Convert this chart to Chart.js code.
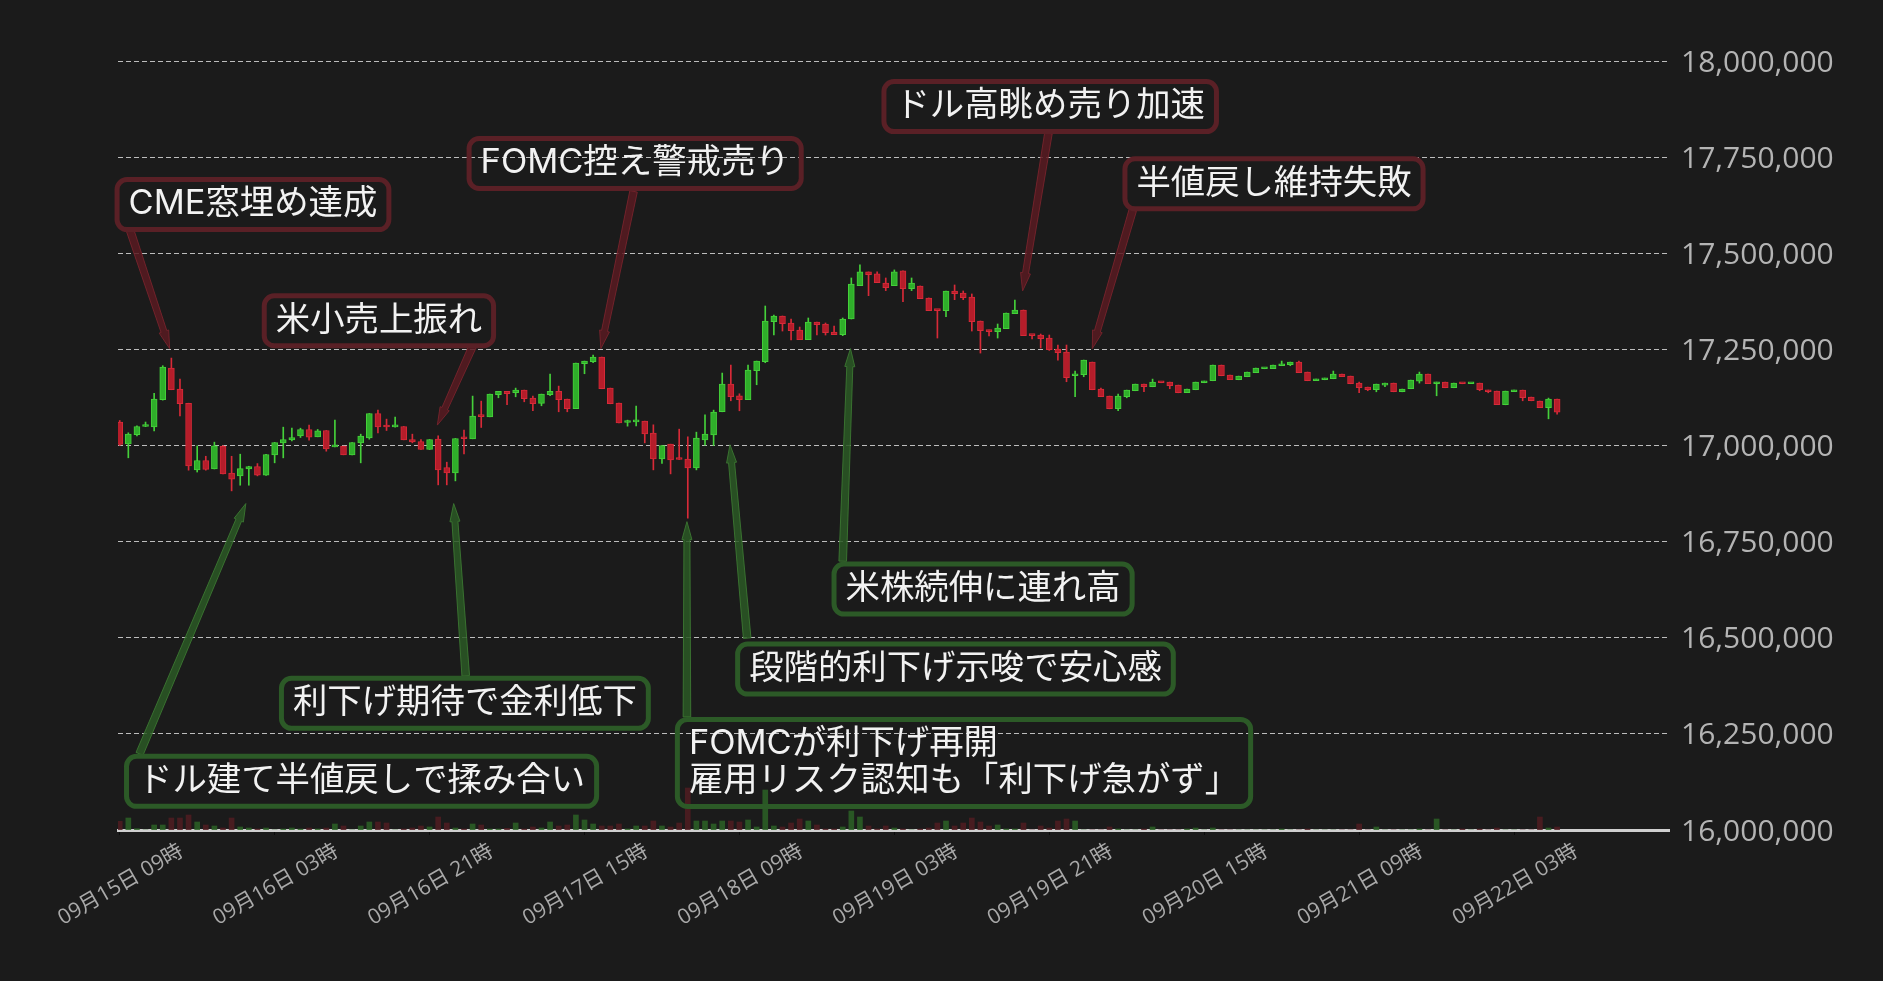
<!DOCTYPE html>
<html>
<head>
<meta charset="utf-8">
<script src="https://cdn.jsdelivr.net/npm/chart.js@4.4.1/dist/chart.umd.min.js"></script>
<style>
  html, body { margin: 0; padding: 0; background: #1b1b1b; }
  #wrap { width: 1883px; height: 981px; }
</style>
</head>
<body>
<div id="wrap"><canvas id="chart"></canvas></div>
<script>
// hourly candles from 09月15日 09時 (index = hours since start)
var opens = [
  17061000, 17004000, 17028000, 17049500, 17048600, 17118900, 17201400, 17146700, 17110000, 16936600,
  16961000, 16939000, 16998000, 16928000, 16921000, 16939000, 16945300, 16922700, 16975700, 17006900,
  17014700, 17025200, 17041700, 17022600, 17039000, 16996500, 16998300, 16975700, 17006900, 17020000,
  17083300, 17049500, 17048600, 17049500, 17015600, 17010400, 16989600, 17016500, 16942700, 16928800,
  17019000, 17017400, 17076400, 17074600, 17131900, 17140600, 17137100, 17144100, 17123300, 17109400,
  17131900, 17140600, 17120700, 17095500, 17212700, 17217900, 17230000, 17149300, 17110200, 17059900,
  17061600, 17063400, 17032100, 16965300, 17003500, 16965300, 16964400, 16941800, 17014800, 17027800,
  17087700, 17159700, 17129300, 17118900, 17194400, 17217900, 17322000, 17336800, 17318600, 17300300,
  17275200, 17321200, 17316000, 17295100, 17288200, 17329000, 17415800, 17451400, 17446200, 17422700,
  17415800, 17454000, 17408000, 17414900, 17383700, 17352400, 17350700, 17401900, 17396700, 17386300,
  17323800, 17300300, 17296000, 17303800, 17342900, 17352400, 17287300, 17287300, 17279500, 17250900,
  17243000, 17181400, 17184000, 17217000, 17146700, 17128500, 17095500, 17126700, 17142400, 17159700,
  17152800, 17164900, 17164900, 17157100, 17137100, 17145000, 17163200, 17168400, 17209200, 17183100,
  17171000, 17178800, 17189200, 17199600, 17199600, 17207500, 17210100, 17217000, 17191000, 17168400,
  17171000, 17173600, 17185800, 17180500, 17162300, 17151900, 17145000, 17157100, 17162300, 17139700,
  17147600, 17167500, 17185800, 17160600, 17164900, 17150200, 17162300, 17160600, 17162300, 17144100,
  17141500, 17105900, 17139700, 17144100, 17125900, 17115400, 17098100, 17120700
];
var highs = [
  17065000, 17033000, 17051000, 17061000, 17135400, 17207500, 17227400, 17172700, 17110000, 16999000,
  16972000, 17008700, 17000000, 16972000, 16977400, 16946000, 16953000, 16977000, 17008000, 17047700,
  17045100, 17045000, 17053000, 17041700, 17039000, 17066000, 16998300, 17007800, 17029500, 17083300,
  17092000, 17068600, 17073800, 17049500, 17029500, 17015600, 17015600, 17025200, 16956600, 17018200,
  17039900, 17128500, 17115400, 17133700, 17140600, 17140600, 17149300, 17144100, 17128500, 17133700,
  17185800, 17154500, 17120700, 17214400, 17219600, 17235200, 17230000, 17149300, 17110200, 17066000,
  17102400, 17063400, 17053800, 17000000, 17003500, 17042500, 17022600, 17034700, 17079900, 17092000,
  17188400, 17209200, 17134500, 17209200, 17219600, 17362800, 17339400, 17336800, 17329000, 17308100,
  17331600, 17321200, 17318600, 17310700, 17331600, 17435700, 17469600, 17451400, 17451400, 17435700,
  17456600, 17454000, 17435700, 17414900, 17383700, 17352400, 17401900, 17417500, 17401900, 17394100,
  17323800, 17300300, 17316000, 17344600, 17378400, 17352400, 17287300, 17289900, 17287300, 17261300,
  17261300, 17193600, 17222200, 17217000, 17149300, 17128500, 17133700, 17144100, 17159700, 17159700,
  17172700, 17164900, 17164900, 17157100, 17146700, 17164900, 17167500, 17209200, 17209200, 17183100,
  17180500, 17191000, 17201400, 17201400, 17209200, 17219600, 17217000, 17219600, 17191000, 17172700,
  17175300, 17193600, 17185800, 17180500, 17164900, 17151900, 17159700, 17162300, 17162300, 17146700,
  17170100, 17191000, 17185800, 17164900, 17164900, 17162300, 17162300, 17162300, 17162300, 17144100,
  17141500, 17141500, 17144100, 17144100, 17125900, 17115400, 17123300, 17120700
];
var lows = [
  17000000, 16968000, 17025000, 17049000, 17038000, 17118000, 17145000, 17077000, 16935800, 16931000,
  16935800, 16939000, 16926000, 16882000, 16896700, 16896700, 16921000, 16922000, 16954900, 16967900,
  17012100, 17020800, 17013900, 17022600, 16985200, 16996500, 16975700, 16975700, 16954900, 17016500,
  17033000, 17039000, 17047700, 17014700, 17007000, 16989600, 16989600, 16897600, 16897600, 16908000,
  16978300, 17017400, 17046900, 17074600, 17124100, 17105900, 17126700, 17113700, 17090300, 17103300,
  17129300, 17087700, 17087700, 17095500, 17186600, 17215300, 17147600, 17108500, 17059000, 17050300,
  17051200, 17006900, 16936600, 16953100, 16926200, 16963500, 16811000, 16936600, 17000900, 17000000,
  17087700, 17116300, 17090300, 17118900, 17158000, 17215300, 17287300, 17297700, 17274300, 17275200,
  17275200, 17287300, 17287300, 17288200, 17285600, 17329000, 17415800, 17389700, 17423600, 17402800,
  17415800, 17374100, 17402800, 17381900, 17350700, 17279500, 17335000, 17379300, 17379300, 17297700,
  17240400, 17284700, 17279500, 17303800, 17342900, 17285600, 17276900, 17253500, 17247400, 17222200,
  17165800, 17126700, 17178800, 17145000, 17126700, 17095500, 17090300, 17124100, 17142400, 17139700,
  17152800, 17163200, 17147600, 17137100, 17137100, 17145000, 17163200, 17168400, 17181400, 17171000,
  17171000, 17178800, 17189200, 17199600, 17199600, 17207500, 17207500, 17189200, 17168400, 17168400,
  17171000, 17173600, 17178800, 17160600, 17137100, 17142400, 17139700, 17152800, 17139700, 17139700,
  17147600, 17162300, 17160600, 17129300, 17150200, 17150200, 17160600, 17160600, 17142400, 17137100,
  17105900, 17105900, 17139700, 17116300, 17116300, 17098100, 17069400, 17081600
];
var closes = [
  17003000, 17030000, 17049500, 17051000, 17120700, 17204000, 17145000, 17108500, 16947000, 16961000,
  16938000, 16999000, 16926000, 16912300, 16940000, 16945300, 16922700, 16976500, 17007800, 17015600,
  17020800, 17041700, 17021700, 17038200, 16991300, 17000000, 16975700, 17007800, 17024300, 17083300,
  17048600, 17048000, 17049500, 17014700, 17009500, 16989600, 17015600, 16936600, 16928800, 17018200,
  17017500, 17076400, 17075000, 17133700, 17140600, 17134500, 17144100, 17121500, 17108500, 17133700,
  17140600, 17118900, 17095500, 17214400, 17219600, 17230000, 17147600, 17108500, 17059000, 17063400,
  17063400, 17030400, 16965300, 17000000, 16962700, 16963500, 16941800, 17019100, 17029500, 17086800,
  17159700, 17126700, 17118900, 17196200, 17219600, 17323800, 17336800, 17316800, 17298600, 17275200,
  17321200, 17314200, 17293400, 17288200, 17329000, 17420100, 17451400, 17444400, 17423600, 17410600,
  17451400, 17408000, 17422700, 17381900, 17350700, 17350700, 17401900, 17394900, 17384500, 17322000,
  17298600, 17296000, 17305500, 17344600, 17352400, 17285600, 17285600, 17277800, 17249100, 17241300,
  17176200, 17185800, 17222200, 17145000, 17126700, 17095500, 17128500, 17144100, 17159700, 17152800,
  17164900, 17163200, 17155400, 17137100, 17146700, 17164900, 17167500, 17209200, 17181400, 17171000,
  17180500, 17191000, 17201400, 17201400, 17209200, 17211800, 17217000, 17189200, 17168400, 17172700,
  17175300, 17185800, 17178800, 17160600, 17150200, 17145000, 17159700, 17162300, 17139700, 17146700,
  17170100, 17185800, 17160600, 17164900, 17150200, 17162300, 17160600, 17162300, 17145000, 17139700,
  17105900, 17141500, 17144100, 17124100, 17116300, 17098100, 17120700, 17086800
];
var volumes = [
  87, 120, 13, 0, 50, 50, 120, 120, 150, 80,
  50, 40, 20, 120, 30, 20, 10, 20, 0, 10,
  20, 10, 20, 10, 20, 60, 40, 0, 40, 80,
  80, 70, 0, 10, 20, 40, 30, 130, 70, 20,
  10, 60, 50, 10, 10, 17, 70, 10, 30, 20,
  80, 40, 50, 150, 100, 60, 40, 40, 60, 10,
  40, 40, 90, 40, 30, 70, 420, 90, 90, 60,
  90, 90, 80, 100, 30, 400, 40, 30, 70, 110,
  90, 50, 10, 10, 30, 190, 130, 40, 10, 40,
  20, 10, 0, 10, 20, 70, 90, 40, 70, 120,
  80, 40, 50, 10, 10, 70, 0, 40, 20, 90,
  110, 90, 0, 0, 0, 30, 10, 0, 0, 10,
  30, 0, 0, 0, 10, 20, 0, 20, 0, 0,
  0, 0, 0, 0, 0, 10, 0, 0, 10, 0,
  0, 0, 0, 0, 60, 0, 30, 0, 0, 0,
  0, 10, 0, 110, 0, 0, 10, 0, 10, 0,
  20, 0, 0, 0, 0, 130, 20, 30
];
var tickHours = [0, 18, 36, 54, 72, 90, 108, 126, 144, 162];
var tickLabels = ['09月15日 09時', '09月16日 03時', '09月16日 21時', '09月17日 15時', '09月18日 09時',
  '09月19日 03時', '09月19日 21時', '09月20日 15時', '09月21日 09時', '09月22日 03時'];

// annotations: box = top-left corner, base = arrow start, tip = arrow end (hour, price)
var notes = [
  { tone: 'down', text: ['CME窓埋め達成'], box: [-0.6, 17698000], base: [1.2, 17560000], tip: [5.8, 17252000] },
  { tone: 'down', text: ['米小売上振れ'], box: [16.5, 17396000], base: [41.0, 17258000], tip: [36.9, 17053000] },
  { tone: 'down', text: ['FOMC控え警戒売り'], box: [40.3, 17805000], base: [59.7, 17661000], tip: [55.9, 17252000] },
  { tone: 'down', text: ['ドル高眺め売り加速'], box: [88.5, 17953000], base: [107.9, 17812000], tip: [104.9, 17402000] },
  { tone: 'down', text: ['半値戻し維持失敗'], box: [116.5, 17752000], base: [117.7, 17612000], tip: [113.0, 17252000] },
  { tone: 'up', text: ['ドル建て半値戻しで揉み合い'], box: [0.5, 16198000], base: [2.3, 16198000], tip: [14.65, 16849000] },
  { tone: 'up', text: ['利下げ期待で金利低下'], box: [18.5, 16401000], base: [40.2, 16401000], tip: [38.8, 16849000] },
  { tone: 'up', text: ['FOMCが利下げ再開', '雇用リスク認知も「利下げ急がず」'], box: [64.5, 16294000], base: [65.9, 16294000], tip: [65.9, 16802000] },
  { tone: 'up', text: ['段階的利下げ示唆で安心感'], box: [71.5, 16490000], base: [72.9, 16499000], tip: [70.9, 17002000] },
  { tone: 'up', text: ['米株続伸に連れ高'], box: [82.7, 16698000], base: [84.0, 16699000], tip: [84.9, 17252000] }
];

var upBody = '#2fae2a', upEdge = '#45d03a', downBody = '#b51d2a', downEdge = '#d72a38';
var upVol = 'rgba(44, 98, 38, 0.85)', downVol = 'rgba(80, 28, 33, 0.85)';
var noteColors = {
  up: { border: '#2c5a27', fill: 'rgba(42, 88, 36, 0.85)', edge: 'rgba(60, 120, 50, 0.9)' },
  down: { border: '#5a2026', fill: 'rgba(88, 26, 33, 0.85)', edge: 'rgba(120, 36, 44, 0.9)' }
};
var fontFamily = '"Open Sans", "Noto Sans CJK JP", sans-serif';
var noteFont = '34.4px Inter, "Noto Sans CJK JP", sans-serif';

var isUp = opens.map(function (o, i) { return closes[i] >= o; });

function drawArrow(ctx, x0, y0, x1, y1, c) {
  var dx = x1 - x0, dy = y1 - y0, len = Math.hypot(dx, dy);
  var ux = dx / len, uy = dy / len, px = -uy, py = ux;
  var head = 18, w0 = 3.8, w1 = 3.0, wh = 5;
  var hx = x1 - ux * head, hy = y1 - uy * head;
  ctx.beginPath();
  ctx.moveTo(x0 + px * w0, y0 + py * w0);
  ctx.lineTo(hx + px * w1, hy + py * w1);
  ctx.lineTo(hx + px * wh, hy + py * wh);
  ctx.lineTo(x1, y1);
  ctx.lineTo(hx - px * wh, hy - py * wh);
  ctx.lineTo(hx - px * w1, hy - py * w1);
  ctx.lineTo(x0 - px * w0, y0 - py * w0);
  ctx.closePath();
  ctx.fillStyle = c.fill;
  ctx.fill();
  ctx.lineWidth = 1;
  ctx.strokeStyle = c.edge;
  ctx.stroke();
}

var notePlugin = {
  id: 'notes',
  afterDatasetsDraw: function (chart) {
    var ctx = chart.ctx, x = chart.scales.x, y = chart.scales.y;
    ctx.save();
    ctx.font = noteFont;
    notes.forEach(function (n) {
      var c = noteColors[n.tone];
      drawArrow(ctx, x.getPixelForValue(n.base[0]), y.getPixelForValue(n.base[1]),
        x.getPixelForValue(n.tip[0]), y.getPixelForValue(n.tip[1]), c);
    });
    notes.forEach(function (n) {
      var c = noteColors[n.tone];
      var bx = x.getPixelForValue(n.box[0]), by = y.getPixelForValue(n.box[1]);
      var tw = Math.max.apply(null, n.text.map(function (t) { return ctx.measureText(t).width; }));
      var w = tw + 28, h = n.text.length * 37 + 18;
      ctx.lineWidth = 5;
      ctx.strokeStyle = c.border;
      ctx.beginPath();
      ctx.roundRect(bx + 2.5, by + 2.5, w - 5, h - 5, 10);
      ctx.stroke();
      ctx.fillStyle = '#f2f2f2';
      ctx.textAlign = 'left';
      ctx.textBaseline = 'middle';
      n.text.forEach(function (t, k) {
        ctx.fillText(t, bx + 14, by + 27 + k * 37);
      });
    });
    ctx.restore();
  }
};

Chart.defaults.font.family = fontFamily;

var ctx = document.getElementById('chart');
var chart = new Chart(ctx, {
  type: 'bar',
  data: {
    datasets: [{
      label: 'body',
      data: opens.map(function (o, i) { return { x: i, y: [o, closes[i]] }; }),
      backgroundColor: isUp.map(function (u) { return u ? upBody : downBody; }),
      borderColor: isUp.map(function (u) { return u ? upEdge : downEdge; }),
      borderWidth: 1,
      borderSkipped: false,
      barThickness: 6,
      minBarLength: 2,
      grouped: false,
      order: 0
    }, {
      label: 'wick',
      data: lows.map(function (l, i) { return { x: i, y: [l, highs[i]] }; }),
      backgroundColor: isUp.map(function (u) { return u ? upEdge : downEdge; }),
      barThickness: 1,
      grouped: false,
      order: 1
    }, {
      label: 'volume',
      data: volumes.map(function (v, i) { return { x: i, y: v }; }),
      backgroundColor: isUp.map(function (u) { return u ? upVol : downVol; }),
      barThickness: 5,
      grouped: false,
      yAxisID: 'v',
      order: 2
    }]
  },
  options: {
    responsive: true,
    maintainAspectRatio: false,
    animation: false,
    layout: { padding: { left: 118, top: 61, right: 0, bottom: 0 } },
    plugins: { legend: { display: false }, tooltip: { enabled: false } },
    scales: {
      x: {
        type: 'linear',
        min: -0.2,
        max: 180,
        offset: false,
        grid: { display: true, offset: false, drawOnChartArea: false, drawTicks: true, tickLength: 5, tickColor: '#0a0a0a' },
        border: { display: true, color: '#cfcfcf', width: 3 },
        ticks: {
          color: '#a9a9a9',
          font: { size: 21 },
          minRotation: 30,
          maxRotation: 30,
          autoSkip: false,
          labelOffset: 62,
          padding: 4,
          callback: function (v) { return tickLabels[tickHours.indexOf(v)]; }
        },
        afterBuildTicks: function (s) { s.ticks = tickHours.map(function (v) { return { value: v }; }); },
        afterFit: function (s) { s.height = 151; s.paddingLeft = 0; s.paddingRight = 0; }
      },
      y: {
        position: 'right',
        min: 16000000,
        max: 18000000,
        beginAtZero: false,
        ticks: {
          stepSize: 250000,
          color: '#b4b4b4',
          font: { size: 30 },
          padding: 12,
          labelOffset: 2,
          callback: function (v) { return v.toLocaleString('en-US'); }
        },
        grid: { color: '#bdbdbd', lineWidth: 1, drawTicks: false },
        border: { display: false, dash: [5, 3] },
        afterFit: function (s) { s.width = 214; s.paddingTop = 0; s.paddingBottom = 0; }
      },
      v: { display: false, min: 0, max: 7690 }
    }
  },
  plugins: [notePlugin]
});
</script>
</body>
</html>
